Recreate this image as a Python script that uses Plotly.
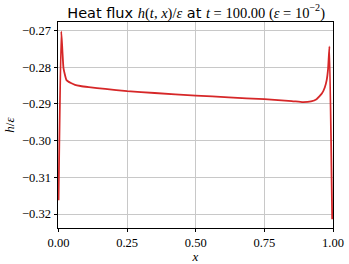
import plotly.graph_objects as go

x_vals = [0.0, 0.010, 0.018, 0.029, 0.045, 0.06, 0.08, 0.11, 0.17, 0.25, 0.35, 0.50, 0.62, 0.75,
          0.85, 0.89, 0.92, 0.94, 0.96, 0.97, 0.977, 0.982, 0.987, 0.997]
h_vals = [-0.3162, -0.2702, -0.2802, -0.2835, -0.2843, -0.2848, -0.2851, -0.2854, -0.2859, -0.2865,
          -0.2870, -0.2877, -0.2882, -0.2887, -0.2892, -0.2895, -0.2893, -0.2887, -0.2871, -0.2855,
          -0.2835, -0.2805, -0.2743, -0.3214]

x_ticks = [0.0, 0.25, 0.5, 0.75, 1.0]
x_ticklabels = ["0.00", "0.25", "0.50", "0.75", "1.00"]
y_ticks = [-0.27, -0.28, -0.29, -0.30, -0.31, -0.32]
y_ticklabels = ["−0.27", "−0.28", "−0.29", "−0.30", "−0.31", "−0.32"]

serif = "Liberation Serif"

fig = go.Figure()
fig.add_trace(go.Scatter(x=x_vals, y=h_vals, mode="lines",
                         line=dict(color="#d62728", width=1.8, shape="spline", smoothing=0.4)))

title = ('<span style="font-family:DejaVu Sans">Heat flux </span><i>h</i>(<i>t</i>, <i>x</i>)/<i>ε</i>'
         '<span style="font-family:DejaVu Sans"> at </span><i>t</i> = 100.00 (<i>ε</i> = 10<sup>−2</sup>)')

fig.update_layout(
    width=349, height=264,
    margin=dict(l=58, r=16, t=22, b=36, autoexpand=False),
    paper_bgcolor="white", plot_bgcolor="white",
    showlegend=False,
    title=dict(text=title, x=0.562, xanchor="center", y=0.972, yanchor="top",
               font=dict(family=serif, size=14.5, color="black")),
    font=dict(family=serif, size=12, color="black"),
)
fig.update_xaxes(range=[-0.002, 1.0], tickvals=x_ticks, ticktext=x_ticklabels, automargin=False,
                 showline=True, linecolor="black", linewidth=1, mirror=True,
                 ticks="outside", ticklen=3, tickcolor="black",
                 showgrid=True, gridcolor="#c8c8c8", gridwidth=1, zeroline=False,
                 title=dict(text="<i>x</i>", standoff=2, font=dict(family=serif, size=13)),
                 tickfont=dict(family=serif, size=12.5))
fig.update_yaxes(range=[-0.32379, -0.26766], tickvals=y_ticks, ticktext=y_ticklabels, automargin=False,
                 showline=True, linecolor="black", linewidth=1, mirror=True,
                 ticks="outside", ticklen=3.5, tickcolor="black",
                 showgrid=True, gridcolor="#c8c8c8", gridwidth=1, zeroline=False,
                 title=dict(text="<i>h</i>/<i>ε</i>", standoff=4, font=dict(family=serif, size=13)),
                 tickfont=dict(family=serif, size=12.5))

fig.write_html("out.html", config={"displayModeBar": False},
               post_script="document.body.style.margin='0';document.body.style.overflow='hidden';")
